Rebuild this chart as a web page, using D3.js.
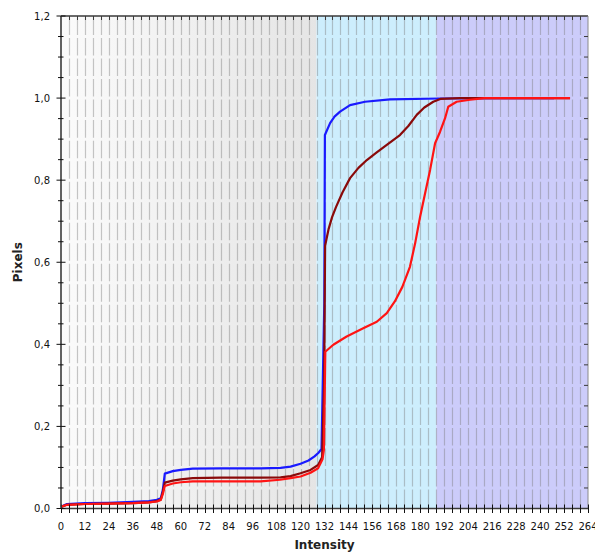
<!DOCTYPE html>
<html>
<head>
<meta charset="utf-8">
<script src="https://cdn.jsdelivr.net/npm/d3@7"></script>
<style>
  body { margin: 0; background: #fff; }
  svg { display: block; font-family: "DejaVu Sans", sans-serif; }
</style>
</head>
<body>
<svg id="fig" width="595" height="554"></svg>
<script>
// intensity bands shown behind the curves
const bandStarts = [0, 128, 188];
const bandEnds = [128, 188, 264];

// cumulative curves, [intensity, share of pixels]
const blueSeries = [[0,0.004],[3,0.011],[12,0.013],[24,0.014],[36,0.016],[44,0.018],[48,0.021],[50,0.025],[51,0.045],[52,0.085],[56,0.091],[60,0.094],[66,0.097],[80,0.098],[100,0.098],[110,0.099],[115,0.102],[120,0.109],[124,0.117],[127,0.127],[129,0.136],[130.5,0.145],[131.9,0.5],[132.2,0.91],[134.8,0.939],[137,0.955],[139.8,0.967],[144.8,0.983],[152.3,0.991],[164.8,0.997],[190,0.999],[220,1.0],[247,1.0]];
const darkRedSeries = [[0,0.004],[3,0.009],[12,0.011],[24,0.012],[36,0.013],[44,0.015],[48,0.018],[50,0.022],[51,0.04],[52,0.063],[56,0.068],[60,0.071],[66,0.074],[80,0.075],[100,0.075],[110,0.076],[115,0.079],[120,0.086],[125,0.094],[128.8,0.106],[130.8,0.125],[131.8,0.3],[132.3,0.64],[134,0.68],[135.8,0.71],[137.8,0.735],[141,0.77],[144.8,0.805],[149,0.83],[153.2,0.849],[158,0.867],[163.2,0.886],[169.8,0.91],[174,0.932],[178.2,0.959],[182,0.977],[186.5,0.991],[190,0.998],[200,1.0],[255,1.0]];
const redSeries = [[0,0.004],[3,0.009],[12,0.011],[24,0.012],[36,0.013],[44,0.015],[48,0.017],[50,0.021],[51,0.035],[52,0.055],[56,0.061],[60,0.064],[66,0.066],[80,0.066],[100,0.066],[109.7,0.07],[115,0.074],[120,0.078],[125,0.087],[128.8,0.098],[131,0.12],[131.7,0.143],[132.4,0.382],[136.4,0.399],[143.1,0.419],[151.4,0.439],[158.2,0.455],[163.2,0.476],[167.3,0.505],[171,0.54],[174.8,0.589],[177.4,0.646],[179.9,0.711],[182.4,0.768],[184.9,0.825],[187.4,0.89],[189.9,0.918],[192.4,0.951],[194,0.979],[198.2,0.991],[204.9,0.996],[212,1.0],[255,1.0]];

const xTickLabels = d3.range(0, 265, 12);
const yTickLabels = [0, 0.2, 0.4, 0.6, 0.8, 1.0, 1.2];

const W = 595, H = 554;
const margin = {left: 61, top: 16, right: 7, bottom: 45.5};
const svg = d3.select("#fig");

const x = d3.scaleLinear().domain([0, 264]).range([margin.left, W - margin.right]);
const y = d3.scaleLinear().domain([0, 1.2]).range([H - margin.bottom, margin.top]);

// background bands
const defs = svg.append("defs");
const grad = defs.append("linearGradient").attr("id", "greyBand")
  .attr("x1", "0%").attr("x2", "100%").attr("y1", "0%").attr("y2", "0%");
grad.append("stop").attr("offset", "0%").attr("stop-color", "#fbfbfb");
grad.append("stop").attr("offset", "100%").attr("stop-color", "#e5e5e5");

const bandFills = ["url(#greyBand)", "#cdeefd", "#ccccfa"];
svg.append("g").selectAll("rect")
  .data(bandStarts)
  .join("rect")
  .attr("x", (d) => x(d))
  .attr("y", y(1.2))
  .attr("width", (d, i) => x(bandEnds[i]) - x(d))
  .attr("height", y(0) - y(1.2))
  .attr("fill", (d, i) => bandFills[i]);

// vertical grid, broken at each minor y step
const step = y(0) - y(0.05);
const gap = 3;
svg.append("g").selectAll("line")
  .data(d3.range(4, 264, 4))
  .join("line")
  .attr("x1", (d) => Math.round(x(d)) + 0.5)
  .attr("x2", (d) => Math.round(x(d)) + 0.5)
  .attr("y1", y(0))
  .attr("y2", y(1.2))
  .attr("stroke", "#7a7a7a")
  .attr("stroke-opacity", 0.42)
  .attr("stroke-width", 1.2)
  .attr("stroke-dasharray", `0,${gap / 2},${step - gap},${gap / 2}`);

// curves
const line = d3.line().x((d) => x(d[0])).y((d) => y(d[1]));
const series = [
  {data: blueSeries, color: "#1a1aff"},
  {data: darkRedSeries, color: "#8a0a0a"},
  {data: redSeries, color: "#ff1414"}
];
svg.append("g").selectAll("path")
  .data(series)
  .join("path")
  .attr("d", (d) => line(d.data))
  .attr("fill", "none")
  .attr("stroke", (d) => d.color)
  .attr("stroke-width", 2.2)
  .attr("stroke-linejoin", "round");

// frame
const axisColor = "#3a3a3a";
svg.append("line").attr("x1", x(0)).attr("x2", x(264)).attr("y1", y(1.2)).attr("y2", y(1.2))
  .attr("stroke", axisColor).attr("stroke-width", 1.3);
svg.append("line").attr("x1", x(264)).attr("x2", x(264)).attr("y1", y(1.2)).attr("y2", y(0))
  .attr("stroke", "#8a8a8a").attr("stroke-width", 1);

// top and right minor ticks
svg.append("g").selectAll("line")
  .data(d3.range(4, 264, 4))
  .join("line")
  .attr("x1", (d) => Math.round(x(d)) + 0.5).attr("x2", (d) => Math.round(x(d)) + 0.5)
  .attr("y1", y(1.2)).attr("y2", y(1.2) + 4)
  .attr("stroke", axisColor).attr("stroke-width", 1);
svg.append("g").selectAll("line")
  .data(d3.range(0.05, 1.2, 0.05))
  .join("line")
  .attr("x1", x(264) - 4).attr("x2", x(264))
  .attr("y1", (d) => y(d)).attr("y2", (d) => y(d))
  .attr("stroke", axisColor).attr("stroke-width", 1);

// bottom axis
const xAxis = svg.append("g").attr("transform", `translate(0,${y(0)})`);
xAxis.append("line").attr("x1", x(0)).attr("x2", x(264)).attr("stroke", axisColor).attr("stroke-width", 1.6);
xAxis.selectAll("line.tick")
  .data(d3.range(0, 265, 4))
  .join("line").attr("class", "tick")
  .attr("x1", (d) => Math.round(x(d)) + 0.5).attr("x2", (d) => Math.round(x(d)) + 0.5)
  .attr("y1", -4).attr("y2", 4.5)
  .attr("stroke", "#111").attr("stroke-width", 1);
xAxis.selectAll("text")
  .data(xTickLabels)
  .join("text")
  .attr("x", (d) => x(d))
  .attr("y", 21)
  .attr("text-anchor", "middle")
  .attr("font-size", 10)
  .attr("fill", "#111")
  .text((d) => d);

// left axis
const yAxis = svg.append("g").attr("transform", `translate(${x(0)},0)`);
yAxis.append("line").attr("y1", y(0)).attr("y2", y(1.2)).attr("stroke", axisColor).attr("stroke-width", 1.6);
yAxis.selectAll("line.tick")
  .data(d3.range(0, 1.2001, 0.05))
  .join("line").attr("class", "tick")
  .attr("x1", (d, i) => i % 4 === 0 ? -4.5 : -3)
  .attr("x2", (d, i) => i % 4 === 0 ? 4.5 : 2.5)
  .attr("y1", (d) => y(d)).attr("y2", (d) => y(d))
  .attr("stroke", "#111").attr("stroke-width", 1);
yAxis.selectAll("text")
  .data(yTickLabels)
  .join("text")
  .attr("x", -11)
  .attr("y", (d) => y(d) + 3.6)
  .attr("text-anchor", "end")
  .attr("font-size", 10)
  .attr("fill", "#111")
  .text((d) => d.toFixed(1).replace(".", ","));

// titles
svg.append("text")
  .attr("x", (x(0) + x(264)) / 2)
  .attr("y", 549)
  .attr("text-anchor", "middle")
  .attr("font-size", 12)
  .attr("font-weight", "bold")
  .attr("fill", "#222")
  .text("Intensity");
svg.append("text")
  .attr("transform", `translate(21.5,${(y(0) + y(1.2)) / 2}) rotate(-90)`)
  .attr("text-anchor", "middle")
  .attr("font-size", 12)
  .attr("font-weight", "bold")
  .attr("fill", "#222")
  .text("Pixels");
</script>
</body>
</html>
